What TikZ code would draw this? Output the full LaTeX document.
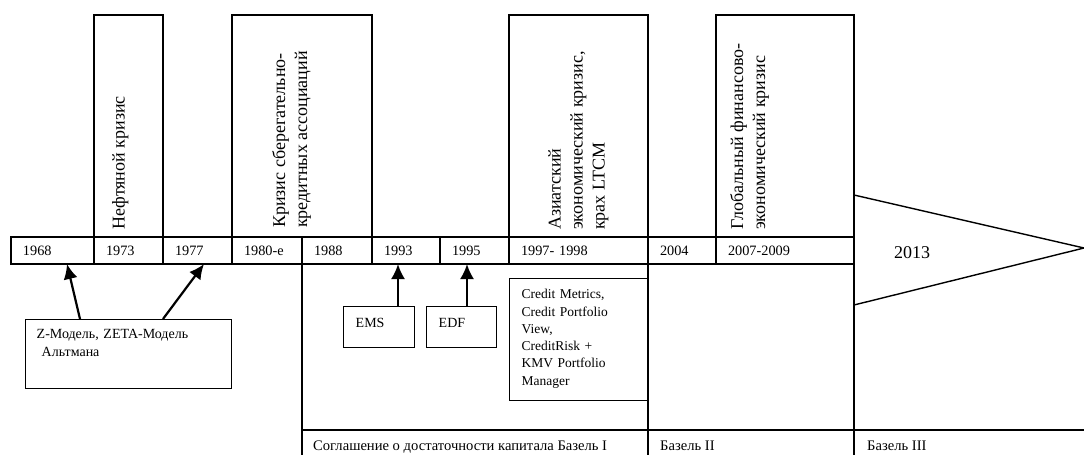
\documentclass[tikz,border=0pt]{standalone}
\usepackage{fontspec}
\setmainfont{Liberation Serif}
\usetikzlibrary{positioning,arrows.meta}

\tikzset{
  yearcell/.style={draw, line width=1.4pt, outer sep=0pt, inner xsep=12pt, inner ysep=0pt,
    minimum height=27pt, align=left, font=\fontsize{14.3}{17}\selectfont},
  crisis/.style={rotate=90, anchor=north west, inner sep=0pt, align=left,
    font=\fontsize{18}{22}\selectfont},
  modelbox/.style={draw, line width=1.4pt, anchor=north west, inner xsep=12pt, inner ysep=0pt,
    align=left, font=\fontsize{14}{18}\selectfont},
  basel/.style={anchor=base west, inner sep=0pt, font=\fontsize{14.6}{17}\selectfont},
  frame/.style={line width=1.4pt},
  pointer/.style={-{Latex[length=15pt,width=14pt]}, line width=2.2pt}
}

\begin{document}
\begin{tikzpicture}[x=1pt, y=-1pt]
\useasboundingbox (0,0) rectangle (1084,455);

\coordinate (top) at (0,15);
\coordinate (bot) at (0,455);
\coordinate (rowline) at (1084,430);
\coordinate (tip) at (1084,248);

% time line
\node[yearcell, text width=59pt, anchor=west] (c1968) at (11,250.5) {1968};
\foreach \yr/\txt/\w [remember=\yr as \prev (initially 1968)] in
  {1973/1973/45, 1977/1977/45, 1980/1980-е/46, 1988/1988/46, 1993/1993/44,
   1995/1995/45, 1997/1997- 1998/115, 2004/2004/44, 2007/2007-2009/114}
  \node[yearcell, text width=\w pt, right=0pt of c\prev] (c\yr) {\txt};

% crises
\draw[frame] (c1973.north west) rectangle (c1973.north east |- top);
\draw[frame] (c1980.north west) rectangle (c1988.north east |- top);
\draw[frame] (c1997.north west) -- (c1997.north west |- top) -- (c1997.north east |- top) -- (c1997.north east |- bot);
\draw[frame] (c2007.north west) -- (c2007.north west |- top) -- (c2007.north east |- top) -- (c2007.north east |- bot);
\node[crisis] (oil) at (112,230) {Нефтяной кризис};
\node[crisis] (savings) at (272,228) {Кризис сберегательно-\\кредитных ассоциаций};
\node[crisis] (asia) at (548,230) {Азиатский\\экономический кризис,\\крах LTCM};
\node[crisis] (global) at (730,230) {Глобальный финансово-\\экономический кризис};

% 2013
\draw[frame] (c2007.north east |- 0,195) -- (tip) -- (c2007.north east |- 0,305);
\node[anchor=base west, inner sep=0pt, font=\fontsize{18}{20}\selectfont] (y2013) at (894,258) {2013};

% models
\node[modelbox, text width=184pt, inner xsep=11pt, text height=19pt, text depth=50pt] (zmod) at (25,319)
  {Z-Модель, ZETA-Модель\\\hspace*{5pt}Альтмана};
\node[modelbox, text width=47pt, text height=21pt, text depth=20pt] (ems) at (343,306) {EMS};
\node[modelbox, text width=46pt, text height=21pt, text depth=20pt] (edf) at (426,306) {EDF};
\node[modelbox, text width=114pt, text height=20pt, text depth=102pt,
  font=\fontsize{13.5}{17.3}\selectfont] (credit) at (509,278)
  {Credit Metrics,\\Credit Portfolio\\View,\\CreditRisk +\\KMV Portfolio\\Manager};

\draw[pointer] ([xshift=55pt]zmod.north west) -- ([xshift=56pt]c1968.south west);
\draw[pointer] ([xshift=138pt]zmod.north west) -- ([xshift=41pt]c1977.south west);
\draw[pointer] ([xshift=55pt]ems.north west) -- ([xshift=55pt]ems.north west |- c1993.south);
\draw[pointer] ([xshift=41pt]edf.north west) -- ([xshift=41pt]edf.north west |- c1995.south);

% Basel
\draw[frame] (c1988.south west) -- (c1988.south west |- bot);
\draw[frame] (c1988.south west |- rowline) -- (rowline);
\node[basel] (basel1) at (313,450) {Соглашение о достаточности капитала Базель I};
\node[basel] (basel2) at (660,450) {Базель II};
\node[basel] (basel3) at (867,450) {Базель III};
\end{tikzpicture}
\end{document}
